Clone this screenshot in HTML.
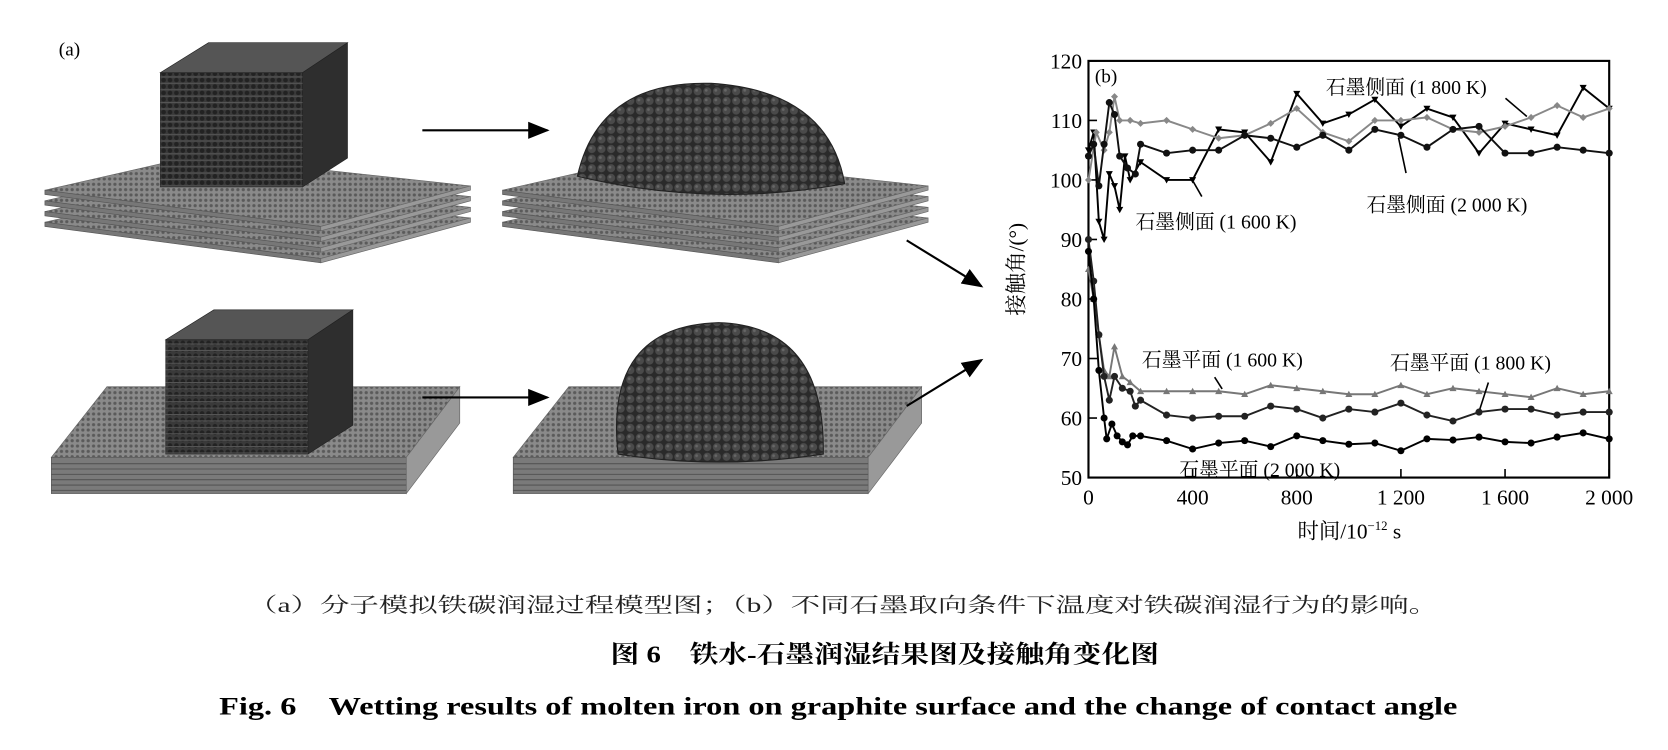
<!DOCTYPE html>
<html><head><meta charset="utf-8"><style>
html,body{margin:0;padding:0;background:#fff;}
svg{display:block;}
text{font-family:"Liberation Serif","Noto Serif CJK SC",serif;}
</style></head><body>
<svg id="s" width="1668" height="750" viewBox="0 0 1560 702" preserveAspectRatio="none" xmlns="http://www.w3.org/2000/svg">
<defs>
<pattern id="grid" width="6" height="6" patternUnits="userSpaceOnUse"><rect width="6" height="6" fill="#3a3a3a"/><circle cx="3" cy="3" r="2.2" fill="#222"/></pattern>
<pattern id="plate" width="5" height="5" patternUnits="userSpaceOnUse"><rect width="5" height="5" fill="#8a8a8a"/><circle cx="2.5" cy="2.5" r="1.5" fill="#5a5a5a"/></pattern>
<pattern id="blob" width="9" height="9" patternUnits="userSpaceOnUse"><rect width="9" height="9" fill="#2a2a2a"/><circle cx="4.5" cy="4.5" r="3.8" fill="#4a4a4a"/><circle cx="3.5" cy="3.5" r="1.3" fill="#666"/></pattern>
<marker id="ah" markerWidth="10" markerHeight="10" refX="9" refY="5" orient="auto"><path d="M0,1 L10,5 L0,9 Z" fill="#000"/></marker>
</defs>
<text x="55" y="52" font-size="18">(a)</text>
<g id="a"></g>
<line x1="395" y1="122" x2="512" y2="122" stroke="#000" stroke-width="2" marker-end="url(#ah)"/>
<line x1="395" y1="372" x2="512" y2="372" stroke="#000" stroke-width="2" marker-end="url(#ah)"/>
<line x1="848" y1="225" x2="918" y2="268" stroke="#000" stroke-width="2" marker-end="url(#ah)"/>
<line x1="848" y1="380" x2="918" y2="337" stroke="#000" stroke-width="2" marker-end="url(#ah)"/>
<g id="c"></g>
<text x="232" y="573" font-size="19" fill="#222" textLength="1113" lengthAdjust="spacingAndGlyphs">（a）分子模拟铁碳润湿过程模型图；（b）不同石墨取向条件下温度对铁碳润湿行为的影响。</text>
<text x="571" y="620" font-size="23" font-weight="bold" font-family="Noto Sans CJK SC,sans-serif" textLength="513" lengthAdjust="spacingAndGlyphs">图 6　铁水-石墨润湿结果图及接触角变化图</text>
<text x="784" y="669" font-size="24" font-weight="bold" text-anchor="middle" textLength="1158" lengthAdjust="spacingAndGlyphs">Fig. 6　Wetting results of molten iron on graphite surface and the change of contact angle</text>
</svg>
<script>
var NS="http://www.w3.org/2000/svg";
function el(p,t,a,txt){var e=document.createElementNS(NS,t);for(var k in a)e.setAttribute(k,a[k]);if(txt!=null)e.textContent=txt;p.appendChild(e);return e;}
var A=document.getElementById('a');
function poly(pts,f,s){el(A,'polygon',{points:pts.map(function(p){return p.join(',')}).join(' '),fill:f,stroke:s||'#555','stroke-width':0.6});}
function plates(dx){for(var i=3;i>=0;i--){var o=i*10;poly([[42+dx,178+o],[300+dx,212+o],[440+dx,174+o],[182+dx,146+o]],'url(#plate)','#666');poly([[42+dx,178+o],[300+dx,212+o],[300+dx,216+o],[42+dx,182+o]],'#777','#555');poly([[300+dx,212+o],[440+dx,174+o],[440+dx,178+o],[300+dx,216+o]],'#999','#666');}}
function slab(dx){poly([[48+dx,428],[380+dx,428],[430+dx,362],[100+dx,362]],'url(#plate)','#666');poly([[48+dx,428],[380+dx,428],[380+dx,462],[48+dx,462]],'#7a7a7a','#555');poly([[380+dx,428],[430+dx,362],[430+dx,396],[380+dx,462]],'#999','#666');
for(var y=434;y<462;y+=5)el(A,'line',{x1:48+dx,y1:y,x2:380+dx,y2:y,stroke:'#555','stroke-width':1});}
function cube(x,y){poly([[x,y+28],[x+133,y+28],[x+133,y+135],[x,y+135]],'url(#grid)','#222');poly([[x,y+28],[x+45,y],[x+175,y],[x+133,y+28]],'#555','#222');poly([[x+133,y+28],[x+175,y],[x+175,y+108],[x+133,y+135]],'#2e2e2e','#222');
for(var i=0;i<18;i++){el(A,'line',{x1:x,y1:y+32+i*6,x2:x+133,y2:y+32+i*6,stroke:'#555','stroke-width':1});}}
plates(0);cube(150,40);
plates(428);
el(A,'path',{d:'M540,165 Q560,75 665,78 Q775,85 790,172 Q665,195 540,165 Z',fill:'url(#blob)',stroke:'#222'});
slab(0);cube(155,290);
slab(432);
el(A,'path',{d:'M578,425 Q565,305 672,302 Q772,305 770,425 Q672,440 578,425 Z',fill:'url(#blob)',stroke:'#222'});

var C=document.getElementById('c');
var X0=1018,X1=1505,Y0=447,Y1=57;
function X(v){return X0+v/2000*(X1-X0);} function Y(v){return Y0-(v-50)/70*(Y0-Y1);}
el(C,'rect',{x:X0,y:Y1,width:X1-X0,height:Y0-Y1,fill:'none',stroke:'#000','stroke-width':2});
for(var v=50;v<=120;v+=10){el(C,'line',{x1:X0,y1:Y(v),x2:X0+8,y2:Y(v),stroke:'#000','stroke-width':1.5});el(C,'text',{x:X0-6,y:Y(v)+7,'font-size':20,'text-anchor':'end'},String(v));}
var xl=['0','400','800','1 200','1 600','2 000'];
for(var i=0;i<6;i++){var xv=X(i*400);el(C,'line',{x1:xv,y1:Y0,x2:xv,y2:Y0-8,stroke:'#000','stroke-width':1.5});el(C,'text',{x:xv,y:Y0+25,'font-size':20,'text-anchor':'middle'},xl[i]);}
var t=el(C,'text',{x:1262,y:504,'font-size':20,'text-anchor':'middle'},'时间/10');el(t,'tspan',{'font-size':12,dy:-8},'−12');el(t,'tspan',{dy:8},' s');
el(C,'text',{x:0,y:0,'font-size':20,'text-anchor':'middle',transform:'translate(957,252) rotate(-90)'},'接触角/(°)');
el(C,'text',{x:1024,y:77,'font-size':18},'(b)');
var S=[
{c:'#000',m:'tri-d',d:[[0,105],[20,108],[40,93],[60,90],[80,101],[100,99],[120,95],[140,104],[160,100],[200,103],[300,100],[400,100],[500,108.5],[600,108],[700,103],[800,114.5],[900,109.5],[1000,111],[1100,113.5],[1200,109],[1300,112],[1400,110.5],[1500,104.5],[1600,109.5],[1700,108.5],[1800,107.5],[1900,115.5],[2000,112]]},
{c:'#888',m:'dia',d:[[0,100],[30,108],[60,105],[80,108],[100,114],[120,110],[160,110],[200,109.5],[300,110],[400,108.5],[500,107],[600,107.5],[700,109.5],[800,112],[900,108],[1000,106.5],[1100,110],[1200,110],[1300,110.5],[1400,108.5],[1500,108],[1600,109],[1700,110.5],[1800,112.5],[1900,110.5],[2000,112]]},
{c:'#111',m:'cir',d:[[0,104],[20,106],[40,99],[60,106],[80,113],[100,111],[120,104],[150,102],[180,101],[200,106],[300,104.5],[400,105],[500,105],[600,107.5],[700,107],[800,105.5],[900,107.5],[1000,105],[1100,108.5],[1200,107.5],[1300,105.5],[1400,108.5],[1500,109],[1600,104.5],[1700,104.5],[1800,105.5],[1900,105],[2000,104.5]]},
{c:'#777',m:'tri-u',d:[[0,85],[20,80],[40,74],[60,68],[80,67],[100,72],[130,67],[160,66],[200,64.5],[300,64.5],[400,64.5],[500,64.5],[600,64],[700,65.5],[800,65],[900,64.5],[1000,64],[1100,64],[1200,65.5],[1300,64],[1400,65],[1500,64.5],[1600,64],[1700,63.5],[1800,65],[1900,64],[2000,64.5]]},
{c:'#222',m:'cir',d:[[0,90],[20,83],[40,74],[60,67],[80,63],[100,67],[130,65],[160,64.5],[180,62],[200,63],[300,60.5],[400,60],[500,60.3],[600,60.3],[700,62],[800,61.5],[900,60],[1000,61.5],[1100,61],[1200,62.5],[1300,60.5],[1400,59.5],[1500,61],[1600,61.5],[1700,61.5],[1800,60.5],[1900,61],[2000,61]]},
{c:'#000',m:'cir',d:[[0,88],[20,80],[40,68],[60,60],[70,56.5],[90,59],[110,57],[130,56],[150,55.5],[170,57],[200,57],[300,56.2],[400,54.8],[500,55.8],[600,56.2],[700,55.2],[800,57],[900,56.2],[1000,55.6],[1100,55.8],[1200,54.5],[1300,56.5],[1400,56.3],[1500,56.8],[1600,56],[1700,55.8],[1800,56.8],[1900,57.5],[2000,56.5]]}];
S.forEach(function(s){var pts=s.d.map(function(p){return X(p[0]).toFixed(1)+','+Y(p[1]).toFixed(1)}).join(' ');
el(C,'polyline',{points:pts,fill:'none',stroke:s.c,'stroke-width':1.8});
s.d.forEach(function(p){var x=X(p[0]),y=Y(p[1]),r=3.3;
if(s.m=='cir')el(C,'circle',{cx:x,cy:y,r:r,fill:s.c});
else if(s.m=='dia')el(C,'polygon',{points:[x,y-r,x+r,y,x,y+r,x-r,y].join(','),fill:s.c});
else if(s.m=='tri-u')el(C,'polygon',{points:[x,y-r,x+r,y+r*0.8,x-r,y+r*0.8].join(','),fill:s.c});
else el(C,'polygon',{points:[x,y+r,x+r,y-r*0.8,x-r,y-r*0.8].join(','),fill:s.c});});});
var L=[['石墨侧面 (1 800 K)',1240,88],['石墨侧面 (1 600 K)',1062,214],['石墨侧面 (2 000 K)',1278,198],['石墨平面 (1 600 K)',1068,343],['石墨平面 (1 800 K)',1300,346],['石墨平面 (2 000 K)',1103,446]];
L.forEach(function(l){el(C,'text',{x:l[1],y:l[2],'font-size':18.5},l[0]);});
[[1408,92,1428,109],[1116,170,1124,184],[1308,129,1315,162],[1136,353,1143,364],[1392,358,1384,383]].forEach(function(a){el(C,'line',{x1:a[0],y1:a[1],x2:a[2],y2:a[3],stroke:'#000','stroke-width':1.5});});
</script>
</body></html>
